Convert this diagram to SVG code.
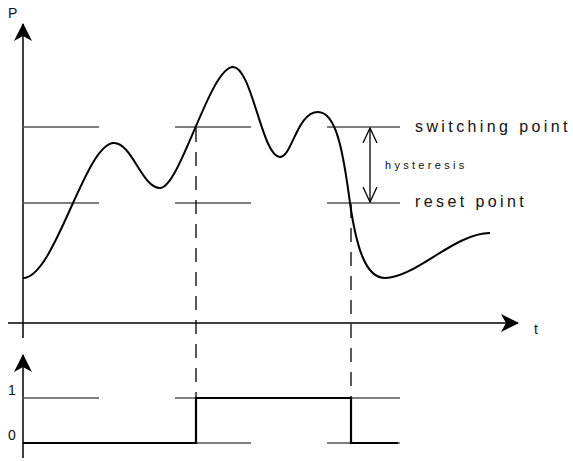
<svg xmlns="http://www.w3.org/2000/svg" width="573" height="461" viewBox="0 0 573 461">
<style>
.axis{stroke:#000;stroke-width:1.5;fill:none}
.lvl{stroke:#555;stroke-width:1.3;fill:none}
.dash{stroke:#000;stroke-width:1.3;fill:none;stroke-dasharray:14 10}
.sig{stroke:#000;stroke-width:2.2;fill:none;stroke-linejoin:miter}
.curve{stroke:#000;stroke-width:2;fill:none}
.lbl{font-family:"Liberation Sans",Arial,sans-serif;fill:#111}
.big{font-size:16px;letter-spacing:3.4px}
.small{font-size:11px;letter-spacing:3.3px}
.ax{font-size:14px}
</style>
<defs>
<marker id="ah" viewBox="0 0 18 18" markerWidth="18" markerHeight="18" refX="17" refY="9" orient="auto" markerUnits="userSpaceOnUse">
<path d="M0,0 L18,9 L0,18 L5,9 Z" fill="#000"/>
</marker>
<marker id="open" viewBox="0 0 16 16" markerWidth="16" markerHeight="16" refX="15" refY="8" orient="auto" markerUnits="userSpaceOnUse">
<path d="M0,1 L15,8 L0,15" fill="none" stroke="#000" stroke-width="1.3"/>
</marker>
</defs>
<g id="axes">
<line class="axis" x1="23" y1="338" x2="23" y2="24" marker-end="url(#ah)"/>
<line class="axis" x1="8" y1="323" x2="518" y2="323" marker-end="url(#ah)"/>
<line class="axis" x1="23" y1="458" x2="23" y2="355" marker-end="url(#ah)"/>
<text class="lbl ax" x="8" y="18">P</text>
<text class="lbl ax" x="534" y="334">t</text>
<text class="lbl ax" x="8" y="395">1</text>
<text class="lbl ax" x="8" y="440">0</text>
</g>
<g id="levels">
<line class="lvl" x1="23" y1="127" x2="99" y2="127"/>
<line class="lvl" x1="175" y1="127" x2="251" y2="127"/>
<line class="lvl" x1="327" y1="127" x2="400" y2="127"/>
<line class="lvl" x1="23" y1="203" x2="99" y2="203"/>
<line class="lvl" x1="175" y1="203" x2="251" y2="203"/>
<line class="lvl" x1="327" y1="203" x2="400" y2="203"/>
<line class="lvl" x1="23" y1="398" x2="99" y2="398"/>
<line class="lvl" x1="175" y1="398" x2="400" y2="398"/>
<line class="lvl" x1="196" y1="443" x2="251" y2="443"/>
<line class="lvl" x1="327" y1="443" x2="400" y2="443"/>
</g>
<g id="connectors">
<line class="dash" x1="196" y1="128" x2="196" y2="398"/>
<line class="dash" x1="351" y1="204" x2="351" y2="398"/>
<line stroke="#000" stroke-width="1.3" x1="370" y1="165" x2="370" y2="128" marker-end="url(#open)"/>
<line stroke="#000" stroke-width="1.3" x1="370" y1="165" x2="370" y2="202" marker-end="url(#open)"/>
</g>
<g id="curve">
<path class="curve" d="M23,278 C55,278 85,143 114,143 C132,143 142,188 160,188 C180,188 210,67 233,67 C252,67 262,157 280,157 C292,157 297,112 318,112 C336,112 343,150 350,203 C356,245 365,278 385,278 C415,278 455,233 490,233"/>
</g>
<g id="signal">
<path class="sig" d="M23,443 L196,443 L196,398 L351,398 L351,443 L398,443"/>
</g>
<g id="labels">
<text class="lbl big" x="415" y="132">switching point</text>
<text class="lbl big" x="415" y="207">reset point</text>
<text class="lbl small" x="385" y="169">hysteresis</text>
</g>
</svg>
